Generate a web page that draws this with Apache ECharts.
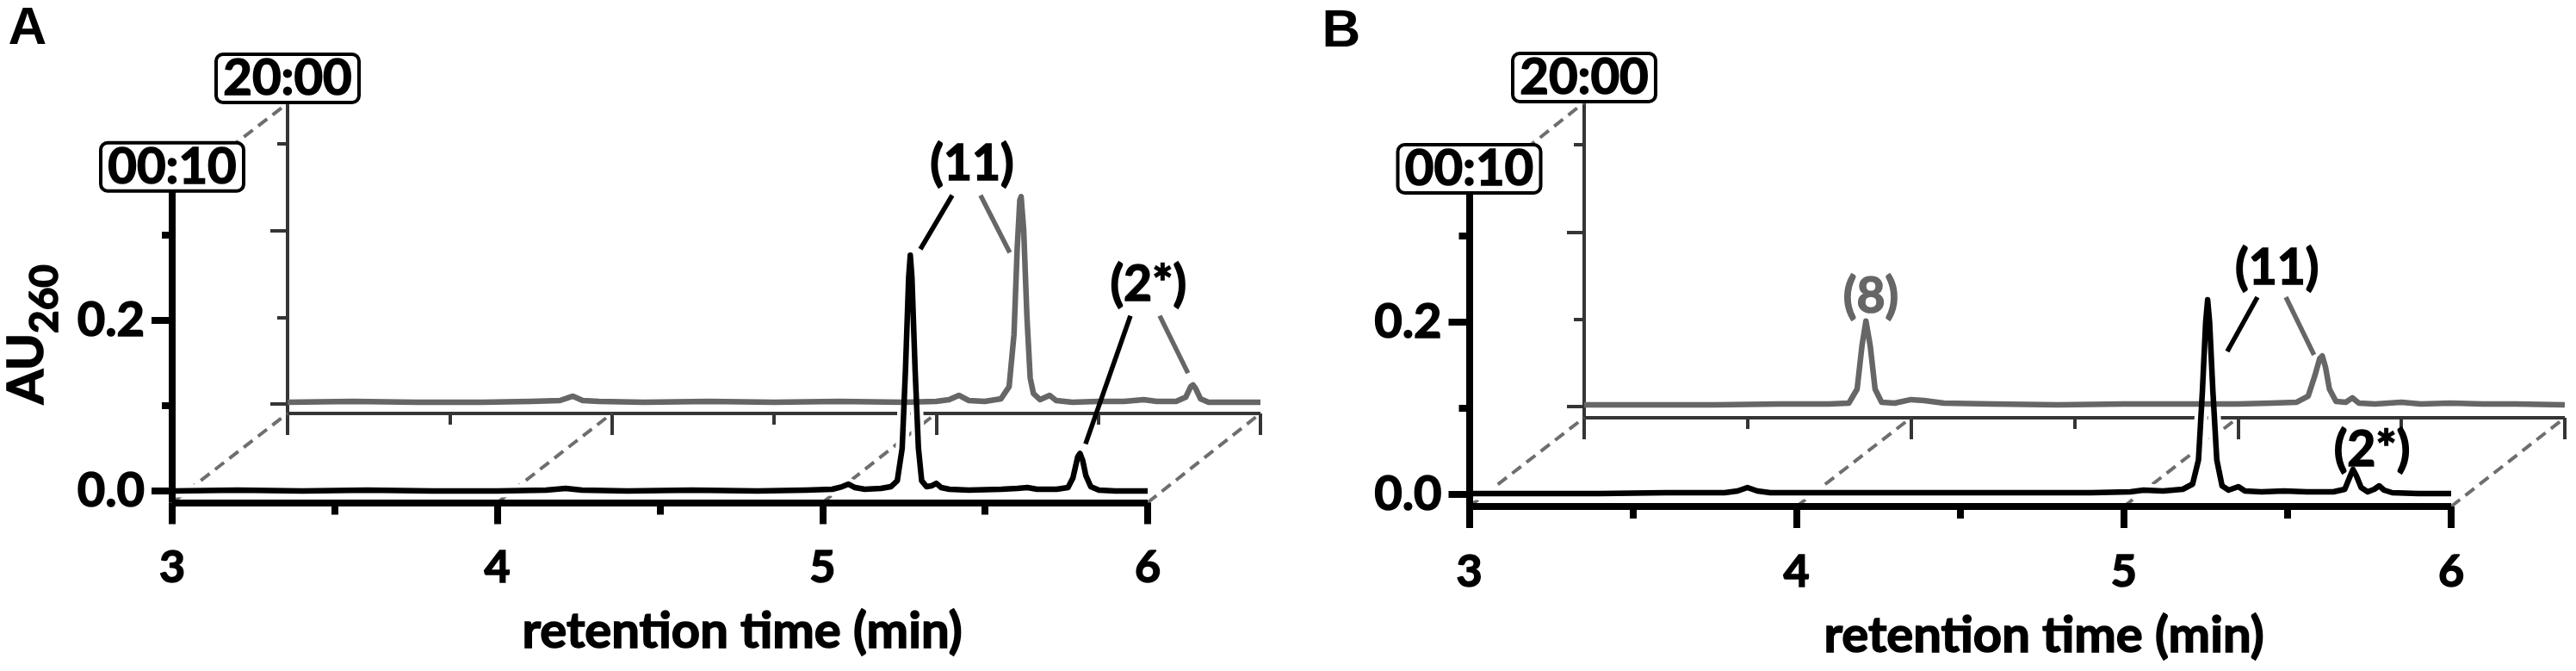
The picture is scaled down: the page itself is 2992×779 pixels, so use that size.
<!DOCTYPE html>
<html><head><meta charset="utf-8">
<script src="https://cdn.jsdelivr.net/npm/echarts@6/dist/echarts.min.js"></script>
<style>html,body{margin:0;padding:0;background:#fff}#c{width:2992px;height:779px}</style>
</head><body><div id="c"></div>
<script>
// ---------------- DATA (retention time in min, absorbance AU260) ----------------
const aFrontTrace = [[3.00,0.000],[3.20,0.001],[3.40,0.000],[3.60,0.001],[3.80,0.000],[4.00,0.000],[4.15,0.001],[4.21,0.003],[4.26,0.001],[4.40,0.000],[4.60,0.001],[4.80,0.000],[4.95,0.001],[5.03,0.002],[5.06,0.005],[5.08,0.008],[5.10,0.004],[5.13,0.002],[5.18,0.003],[5.21,0.005],[5.23,0.012],[5.245,0.05],[5.255,0.14],[5.265,0.25],[5.27,0.276],[5.275,0.25],[5.285,0.14],[5.295,0.05],[5.305,0.012],[5.32,0.005],[5.335,0.006],[5.35,0.009],[5.365,0.004],[5.39,0.002],[5.45,0.001],[5.55,0.002],[5.60,0.003],[5.63,0.004],[5.66,0.002],[5.72,0.002],[5.755,0.004],[5.77,0.015],[5.785,0.040],[5.792,0.044],[5.80,0.036],[5.81,0.018],[5.825,0.005],[5.85,0.001],[5.90,0.000],[6.00,0.000]];
const aBackTrace = [[3.00,0.002],[3.20,0.003],[3.40,0.002],[3.60,0.002],[3.75,0.003],[3.84,0.004],[3.88,0.009],[3.91,0.004],[3.96,0.003],[4.10,0.002],[4.30,0.003],[4.50,0.002],[4.70,0.003],[4.90,0.002],[5.00,0.003],[5.04,0.005],[5.07,0.010],[5.10,0.004],[5.15,0.003],[5.20,0.006],[5.225,0.02],[5.24,0.08],[5.25,0.18],[5.258,0.235],[5.262,0.239],[5.27,0.20],[5.28,0.10],[5.29,0.03],[5.30,0.012],[5.32,0.005],[5.35,0.010],[5.37,0.004],[5.42,0.002],[5.50,0.003],[5.58,0.003],[5.64,0.005],[5.68,0.003],[5.74,0.003],[5.77,0.008],[5.785,0.020],[5.792,0.022],[5.80,0.018],[5.815,0.006],[5.84,0.002],[5.90,0.002],[6.00,0.002]];
const bFrontTrace = [[3.00,0.001],[3.20,0.001],[3.40,0.001],[3.60,0.002],[3.78,0.002],[3.82,0.004],[3.85,0.008],[3.88,0.004],[3.92,0.002],[4.10,0.002],[4.30,0.002],[4.50,0.002],[4.70,0.002],[4.90,0.002],[5.02,0.003],[5.06,0.005],[5.12,0.004],[5.18,0.006],[5.21,0.012],[5.228,0.04],[5.24,0.12],[5.25,0.20],[5.256,0.226],[5.262,0.20],[5.272,0.12],[5.284,0.04],[5.30,0.010],[5.32,0.005],[5.35,0.009],[5.37,0.004],[5.42,0.003],[5.49,0.004],[5.56,0.003],[5.64,0.003],[5.675,0.006],[5.69,0.020],[5.70,0.029],[5.71,0.022],[5.725,0.008],[5.745,0.003],[5.765,0.006],[5.78,0.010],[5.795,0.005],[5.82,0.002],[5.90,0.001],[6.00,0.001]];
const bBackTrace = [[3.00,0.002],[3.20,0.002],[3.40,0.002],[3.60,0.003],[3.75,0.003],[3.81,0.004],[3.835,0.020],[3.85,0.070],[3.862,0.098],[3.875,0.070],[3.89,0.020],[3.91,0.005],[3.95,0.004],[4.00,0.008],[4.04,0.007],[4.10,0.004],[4.25,0.003],[4.45,0.002],[4.65,0.003],[4.85,0.003],[5.00,0.003],[5.10,0.004],[5.18,0.005],[5.215,0.012],[5.235,0.035],[5.25,0.055],[5.258,0.058],[5.268,0.045],[5.28,0.020],[5.30,0.006],[5.33,0.005],[5.35,0.010],[5.37,0.004],[5.42,0.003],[5.50,0.005],[5.56,0.003],[5.65,0.004],[5.75,0.003],[5.85,0.003],[6.00,0.002]];

const xMin = 3, xMax = 6, xStep = 1;
const yLabelValues = [0, 0.2];
const yMinorValues = [0.1, 0.3];
const connectorTimes = [3, 4, 5, 6];
const timeStamps = ['00:10', '20:00'];   // front, back
const panelLetters = ['A', 'B'];
const xTitle = 'retention time (min)';

// peak annotations, in front-trace coordinates [min, AU]
const peakLabels = [
  [ {text:'(11)', at:[5.460,0.382], grey:false}, {text:'(2*)', at:[6.002,0.241], grey:false} ],
  [ {text:'(8)', at:[4.227,0.229], grey:true}, {text:'(11)', at:[5.468,0.262], grey:false}, {text:'(2*)', at:[5.758,0.051], grey:false} ]
];
const leaders = [
  [ {from:[5.399,0.346], to:[5.301,0.283], grey:false}, {from:[5.486,0.346], to:[5.576,0.279], grey:true},
    {from:[5.947,0.205], to:[5.809,0.055], grey:false}, {from:[6.037,0.205], to:[6.124,0.138], grey:true} ],
  [ {from:[5.408,0.229], to:[5.316,0.166], grey:false}, {from:[5.495,0.229], to:[5.581,0.162], grey:true} ]
];

// ---------------- LAYOUT / STYLE ----------------
const FONT = 'Lato, "Open Sans", sans-serif';
const FW = 'bold';
const TB = 1.6; // extra stroke to thicken the bold glyphs
const BLACK = '#000', GREY = '#666666', AXGREY = '#353535', DASH = '#6e6e6e';
const layout = [
  { front:{left:200, right:1333, zero:570, scale:992, min:-0.0136, max:0.35},
    back:{left:334, right:1464, zero:469, scale:1007, min:-0.0109, max:0.3466},
    titleX:862, letter:[32,34] },
  { front:{left:1706.5, right:2847, zero:574, scale:1000, min:-0.014, max:0.349},
    back:{left:1840, right:2979, zero:472, scale:1013, min:-0.0128, max:0.3485},
    titleX:2374, letter:[1558,37] }
];
const traces = [[aFrontTrace, aBackTrace], [bFrontTrace, bBackTrace]];

const grids = [], xAxes = [], yAxes = [], series = [];
layout.forEach((p, pi) => {
  ['front','back'].forEach((k) => {
    const g = p[k], isFront = k === 'front';
    const gi = grids.length;
    grids.push({left:g.left, width:g.right - g.left, top:g.zero - g.max*g.scale,
      height:(g.max - g.min)*g.scale, containLabel:false, outerBoundsMode:'none', show:false});
    const lw = isFront ? 8 : 4, col = isFront ? BLACK : AXGREY;
    xAxes.push({type:'value', gridIndex:gi, min:xMin, max:xMax, interval:xStep, z: isFront ? 5 : 0,
      axisLine:{show:true, onZero:false, lineStyle:{color:col, width:lw, cap:'butt'}},
      axisTick:{show:true, length:25, lineStyle:{color:col, width:lw}},
      minorTick:{show:true, splitNumber:2, length: isFront ? 14 : 13, lineStyle:{color:col, width:lw}},
      axisLabel:{show:isFront, margin:50, fontFamily:FONT, fontWeight:FW, fontSize:52, color:BLACK,
        textBorderColor:BLACK, textBorderWidth:TB},
      splitLine:{show:false}, minorSplitLine:{show:false}});
    yAxes.push({type:'value', gridIndex:gi, position:'left', min:g.min, max:g.max, z: isFront ? 5 : 0,
      axisLine:{show:true, onZero:false, lineStyle:{color:col, width:lw, cap:'butt'}},
      axisTick:{show:true, customValues:yLabelValues, length: isFront ? 24 : 20, lineStyle:{color:col, width:lw}},
      axisLabel:{show:isFront, customValues:yLabelValues, margin:32, fontFamily:FONT, fontWeight:FW, fontSize:56, color:BLACK,
        textBorderColor:BLACK, textBorderWidth:TB, formatter:(v) => Number(v).toFixed(1)},
      splitLine:{show:false}});
    yAxes.push({type:'value', gridIndex:gi, position:'left', offset:0, min:g.min, max:g.max, z: isFront ? 5 : 0,
      axisLine:{show:false},
      axisTick:{show:true, customValues:yMinorValues, length:12, lineStyle:{color:col, width:lw}},
      axisLabel:{show:false}, splitLine:{show:false}});
  });
  const fi = pi*2, bi = pi*2 + 1;
  const [frontData, backData] = traces[pi];
  const base = {type:'line', symbol:'none', showSymbol:false, smooth:false, silent:true, animation:false, clip:false};
  series.push(Object.assign({}, base, {name:'halo'+pi, xAxisIndex:fi, yAxisIndex:fi*2, data:frontData, z:2,
    lineStyle:{color:'#fff', width:15, join:'round', cap:'round'}}));
  series.push(Object.assign({}, base, {name:'back'+pi, xAxisIndex:bi, yAxisIndex:bi*2, data:backData, z:3,
    lineStyle:{color:GREY, width:6.5, join:'round', cap:'butt'}}));
  series.push(Object.assign({}, base, {name:'front'+pi, xAxisIndex:fi, yAxisIndex:fi*2, data:frontData, z:4,
    lineStyle:{color:BLACK, width:6.5, join:'round', cap:'butt'}}));
});

const chart = echarts.init(document.getElementById('c'), null, {renderer:'canvas'});
chart.setOption({animation:false, backgroundColor:'#fff', grid:grids, xAxis:xAxes, yAxis:yAxes, series:series});

// ---------------- decorations positioned through the chart's own scales ----------------
const px = (gi, pt) => chart.convertToPixel({xAxisIndex:gi, yAxisIndex:gi*2}, pt);
const txt = (x, y, text, size, color, extra) => Object.assign({type:'text', z:11, x:x, y:y,
  style:{text:text, fontFamily:FONT, fontWeight:FW, fontSize:size, fill:color, stroke:color, lineWidth:TB,
    align:'center', verticalAlign:'middle'}}, extra || {});
const graphics = [];
layout.forEach((p, pi) => {
  const fi = pi*2, bi = pi*2 + 1;
  connectorTimes.forEach((t) => {
    const a = px(fi, [t, p.front.min]), b = px(bi, [t, p.back.min]);
    graphics.push({type:'line', z:1, shape:{x1:a[0], y1:a[1], x2:b[0], y2:b[1]},
      style:{stroke:DASH, lineWidth:4, lineDash:[13,8]}});
  });
  const ft = px(fi, [xMin, p.front.max]), bt = px(bi, [xMin, p.back.max]);
  graphics.push({type:'line', z:1, shape:{x1:ft[0], y1:ft[1], x2:bt[0], y2:bt[1]},
    style:{stroke:DASH, lineWidth:4, lineDash:[13,8]}});
  [[ft, timeStamps[0]], [bt, timeStamps[1]]].forEach(([pt, label]) => {
    const w = 166, h = 56;
    graphics.push({type:'rect', z:10, shape:{x:pt[0]-w/2, y:pt[1]-h-1, width:w, height:h, r:8},
      style:{fill:'#fff', stroke:BLACK, lineWidth:4}});
    graphics.push(txt(pt[0], pt[1]-h/2-1, label, 58, BLACK));
  });
  peakLabels[pi].forEach((l) => {
    const q = px(fi, l.at);
    graphics.push(txt(q[0], q[1], l.text, 57, l.grey ? GREY : BLACK));
  });
  leaders[pi].forEach((l) => {
    const a = px(fi, l.from), b = px(fi, l.to);
    graphics.push({type:'line', z:11, shape:{x1:a[0], y1:a[1], x2:b[0], y2:b[1]},
      style:{stroke: l.grey ? GREY : BLACK, lineWidth:5.5}});
  });
  const ax = px(fi, [xMin, p.front.min]);
  graphics.push(txt(p.titleX, ax[1] + 150, xTitle, 58, BLACK));
  graphics.push({type:'text', z:11, x:p.letter[0], y:p.letter[1],
    style:{text:panelLetters[pi], fontFamily:'"Liberation Sans", Arial, sans-serif', fontWeight:'bold', fontSize:62, fill:BLACK, align:'center', verticalAlign:'middle'}});
});
graphics.push(txt(31, 428, 'AU', 58, BLACK, {rotation:Math.PI/2}));
graphics.push(txt(52, 347, '260', 46, BLACK, {rotation:Math.PI/2}));

chart.setOption({graphic:{elements:graphics}});
</script></body></html>
